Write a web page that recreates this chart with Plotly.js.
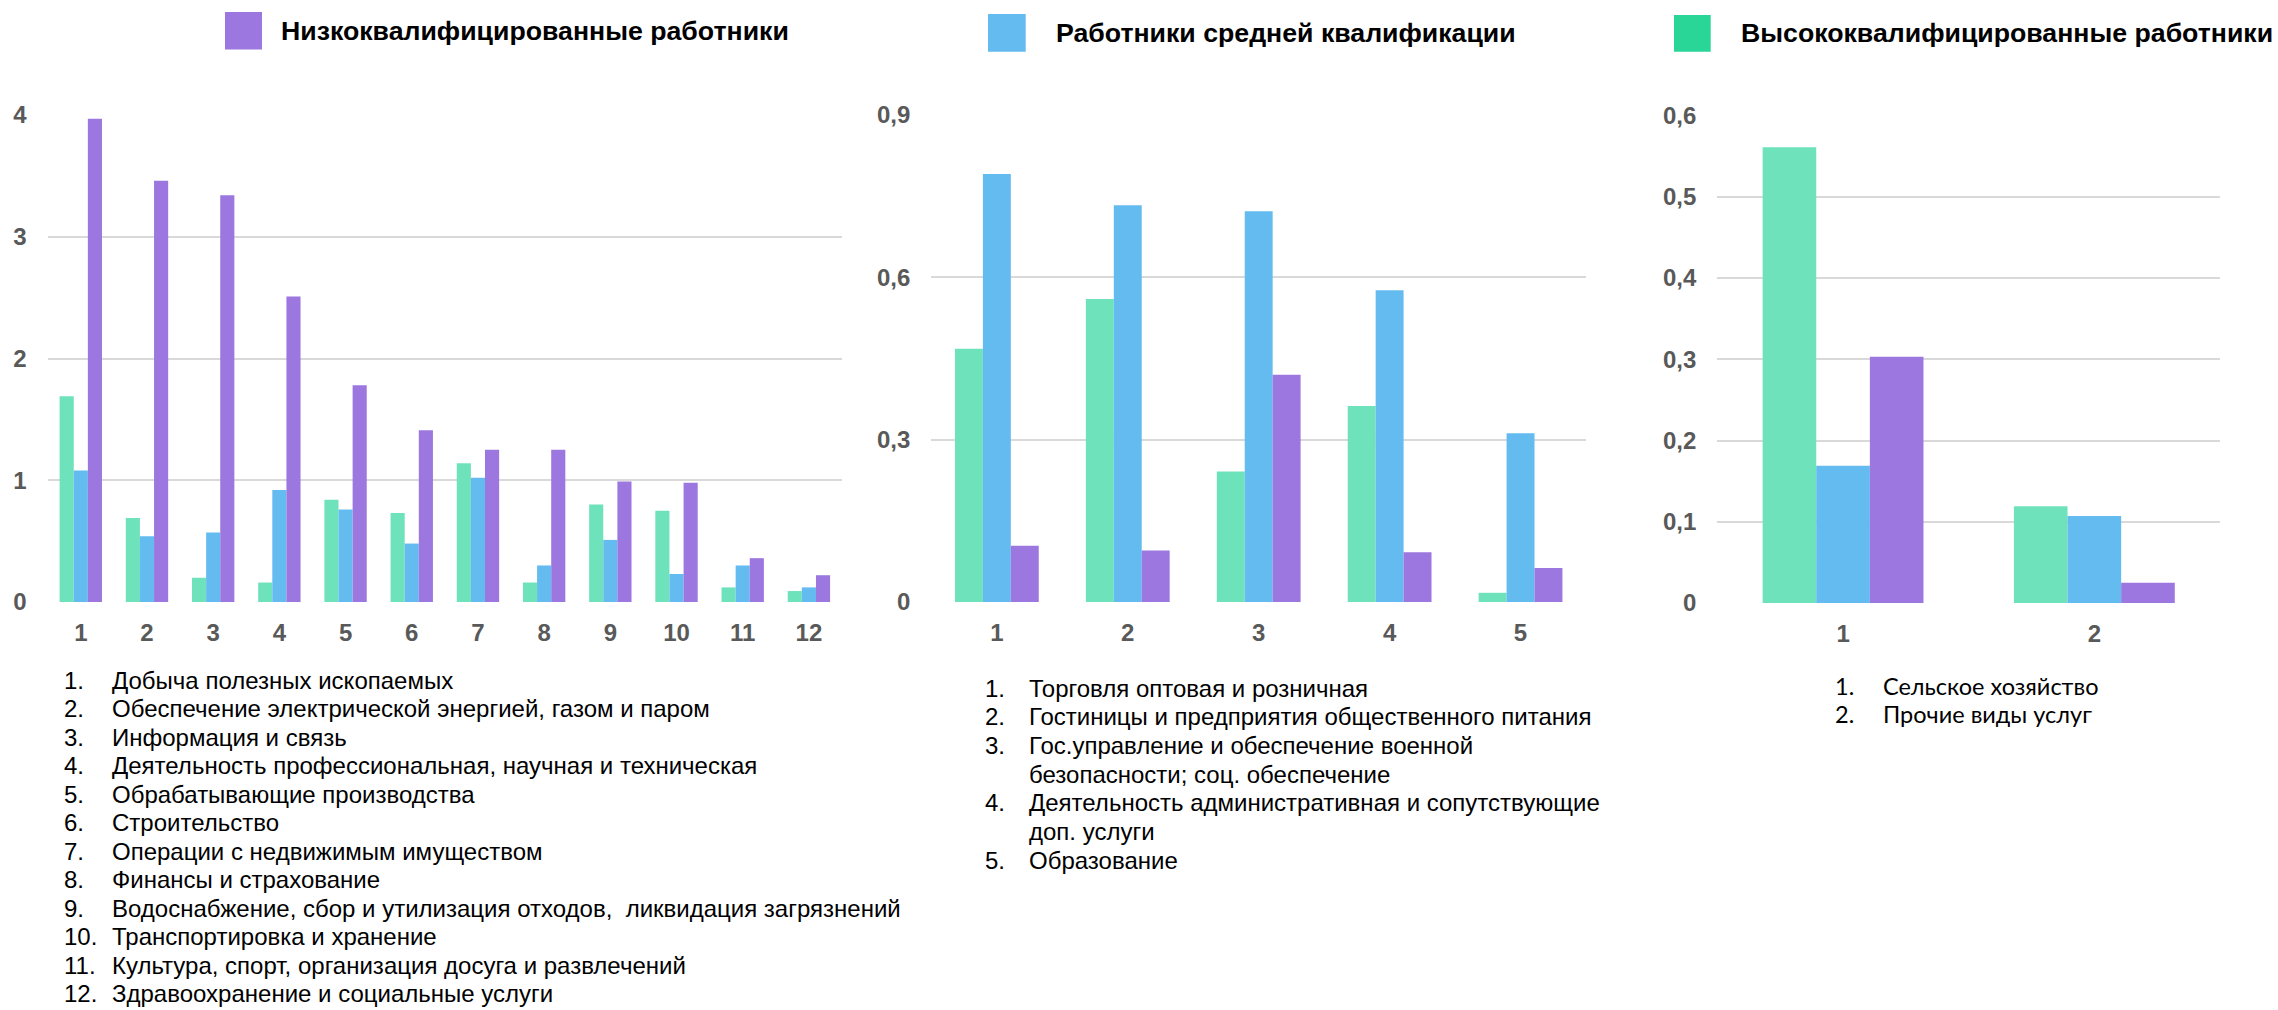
<!DOCTYPE html>
<html>
<head>
<meta charset="utf-8">
<script src="https://cdn.plot.ly/plotly-3.0.1.min.js"></script>
<style>html,body{margin:0;padding:0;background:#fff;}#chart{width:2278px;height:1010px;}</style>
</head>
<body>
<div id="chart"></div>
<script>
// ---------- DATA ----------
const seriesNames = ['Высококвалифицированные работники', 'Работники средней квалификации', 'Низкоквалифицированные работники'];

const cats1 = ['1','2','3','4','5','6','7','8','9','10','11','12'];
const high1 = [1.69, 0.69, 0.20, 0.16, 0.84, 0.73, 1.14, 0.16, 0.80, 0.75, 0.12, 0.09];
const mid1  = [1.08, 0.54, 0.57, 0.92, 0.76, 0.48, 1.02, 0.30, 0.51, 0.23, 0.30, 0.12];
const low1  = [3.97, 3.46, 3.34, 2.51, 1.78, 1.41, 1.25, 1.25, 0.99, 0.98, 0.36, 0.22];
const industries1 = [
  'Добыча полезных ископаемых',
  'Обеспечение электрической энергией, газом и паром',
  'Информация и связь',
  'Деятельность профессиональная, научная и техническая',
  'Обрабатывающие производства',
  'Строительство',
  'Операции с недвижимым имуществом',
  'Финансы и страхование',
  'Водоснабжение, сбор и утилизация отходов,  ликвидация загрязнений',
  'Транспортировка и хранение',
  'Культура, спорт, организация досуга и развлечений',
  'Здравоохранение и социальные услуги'
];

const cats2 = ['1','2','3','4','5'];
const high2 = [0.468, 0.560, 0.241, 0.362, 0.017];
const mid2  = [0.791, 0.733, 0.722, 0.576, 0.312];
const low2  = [0.104, 0.095, 0.420, 0.092, 0.063];
const industries2 = [
  'Торговля оптовая и розничная',
  'Гостиницы и предприятия общественного питания',
  'Гос.управление и обеспечение военной\nбезопасности; соц. обеспечение',
  'Деятельность административная и сопутствующие\nдоп. услуги',
  'Образование'
];

const cats3 = ['1','2'];
const high3 = [0.561, 0.119];
const mid3  = [0.169, 0.107];
const low3  = [0.303, 0.025];
const industries3 = ['Сельское хозяйство', 'Прочие виды услуг'];

const yTicks1 = [0, 1, 2, 3, 4];
const yTickText1 = ['0', '1', '2', '3', '4'];
const yTicks2 = [0, 0.3, 0.6, 0.9];
const yTickText2 = ['0', '0,3', '0,6', '0,9'];
const yTicks3 = [0, 0.1, 0.2, 0.3, 0.4, 0.5, 0.6];
const yTickText3 = ['0', '0,1', '0,2', '0,3', '0,4', '0,5', '0,6'];

// ---------- STYLE / LAYOUT ----------
const W = 2278, H = 1010;
const px = v => v / W;
const py = v => 1 - v / H;
const barColors = ['#6EE2BB', '#64BBF0', '#9B77DF'];
const legendColors = ['#2AD598', '#64BBF0', '#9B77DF'];

function barTrace(x, y, i, ax) {
  return {
    type: 'bar', x: x, y: y, name: seriesNames[i],
    xaxis: 'x' + ax, yaxis: 'y' + ax,
    marker: {color: barColors[i], line: {width: 0}},
    showlegend: false, hoverinfo: 'skip'
  };
}

const traces = [
  barTrace(cats1, high1, 0, ''), barTrace(cats1, mid1, 1, ''), barTrace(cats1, low1, 2, ''),
  barTrace(cats2, high2, 0, '2'), barTrace(cats2, mid2, 1, '2'), barTrace(cats2, low2, 2, '2'),
  barTrace(cats3, high3, 0, '3'), barTrace(cats3, mid3, 1, '3'), barTrace(cats3, low3, 2, '3')
];

const tickFontY = {family: 'Liberation Sans, Arial, sans-serif', size: 24, color: '#595959', weight: 'bold'};
const tickFontX = {family: 'Liberation Sans, Arial, sans-serif', size: 24, color: '#595959', weight: 'bold'};
const gridCol = '#D9D9D9';

function xAx(d0, d1, anchor) {
  return {domain: [px(d0), px(d1)], anchor: anchor, type: 'category', showgrid: false, showline: false,
    zeroline: false, ticks: '', tickfont: tickFontX, ticklabelstandoff: 14, fixedrange: true};
}
function yAx(top, bottom, range, tv, tt, anchor) {
  return {domain: [py(bottom), py(top)], anchor: anchor, range: range, tickvals: tv, ticktext: tt,
    showgrid: true, gridcolor: gridCol, gridwidth: 2, zeroline: false, showline: false, ticks: '',
    tickfont: tickFontY, ticklabelstandoff: 20, fixedrange: true};
}

const shapes = [];
const annotations = [];

function legendBox(x0, y0, x1, y1, color, text, tx, ty) {
  shapes.push({type: 'rect', xref: 'paper', yref: 'paper', x0: px(x0), x1: px(x1), y0: py(y1), y1: py(y0),
    fillcolor: color, line: {width: 0}});
  annotations.push({xref: 'paper', yref: 'paper', x: px(tx), y: py(ty), xanchor: 'left', yanchor: 'middle',
    text: '<b>' + text + '</b>', showarrow: false,
    font: {family: 'Liberation Sans, Arial, sans-serif', size: 26.7, color: '#000'}});
}
legendBox(225, 12, 262, 49.5, legendColors[2], seriesNames[2], 279, 31);
legendBox(988, 14, 1025.7, 51.7, legendColors[1], seriesNames[1], 1054, 33);
legendBox(1674, 15, 1710.7, 51.7, legendColors[0], seriesNames[0], 1739, 33);

function list(items, numX, textX, firstY, step, font) {
  let line = 0;
  items.forEach((it, i) => {
    annotations.push({xref: 'paper', yref: 'paper', x: px(numX), y: py(firstY + line * step), xanchor: 'left', yanchor: 'middle',
      text: (i + 1) + '.', showarrow: false, font: font, borderpad: 0});
    it.split('\n').forEach(part => {
      annotations.push({xref: 'paper', yref: 'paper', x: px(textX), y: py(firstY + line * step), xanchor: 'left', yanchor: 'middle',
        text: part, showarrow: false, font: font, borderpad: 0});
      line++;
    });
  });
}
const listFont = {family: 'Liberation Sans, Arial, sans-serif', size: 24, color: '#000'};
list(industries1, 63, 111, 680, 28.5, listFont);
list(industries2, 984, 1028, 688, 28.7, listFont);
list(industries3, 1834, 1882, 686, 28.3, {family: 'Lato, sans-serif', size: 23.5, color: '#000'});

const layout = {
  width: W, height: H,
  margin: {l: 0, r: 0, t: 0, b: 0},
  paper_bgcolor: '#fff', plot_bgcolor: '#fff',
  barmode: 'group', bargap: 0.36, bargroupgap: 0,
  hovermode: false, showlegend: false,
  separators: ', ',
  xaxis: xAx(47.7, 842, 'y'),
  yaxis: yAx(115, 602, [0, 4], yTicks1, yTickText1, 'x'),
  xaxis2: xAx(931.4, 1586, 'y2'),
  yaxis2: yAx(115, 602, [0, 0.9], yTicks2, yTickText2, 'x2'),
  xaxis3: xAx(1717.4, 2220, 'y3'),
  yaxis3: yAx(115.5, 603, [0, 0.6], yTicks3, yTickText3, 'x3'),
  shapes: shapes,
  annotations: annotations
};

Plotly.newPlot('chart', traces, layout, {displayModeBar: false, staticPlot: true});
</script>
</body>
</html>
